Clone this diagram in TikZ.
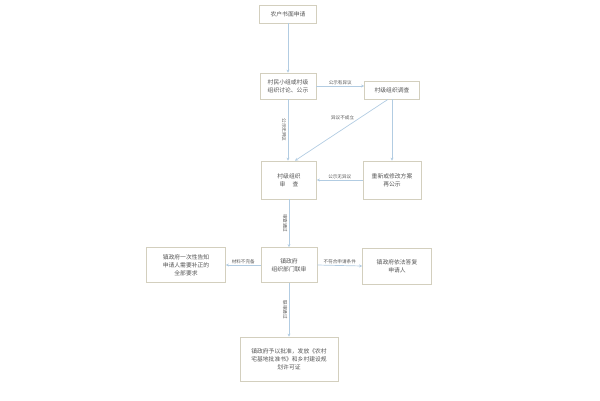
\documentclass[tikz,border=0pt]{standalone}
\usepackage{fontspec}
\setmainfont{Noto Sans CJK SC}
\usetikzlibrary{arrows.meta}
\definecolor{boxline}{HTML}{D3CFBE}
\definecolor{arrowline}{HTML}{B2CCE2}
\definecolor{txt}{HTML}{555555}
\tikzset{
  box/.style={draw=boxline,line width=0.7pt,fill=white,align=center,inner sep=1pt,text=txt,font=\fontsize{5.8}{8}\selectfont},
  flow/.style={draw=arrowline,line width=0.7pt,-{Stealth[length=3pt,width=3pt]}},
  lab/.style={font=\fontsize{4.6}{5.5}\selectfont,text=txt,inner sep=1pt},
  vlab/.style={lab,rotate=-90,anchor=north,inner sep=1.5pt}
}
\begin{document}
\begin{tikzpicture}[x=1pt,y=-1pt]
    \useasboundingbox (0,0) rectangle (600,400);
    \node[box,minimum width=57pt,minimum height=18pt] (apply) at (288,14) {农户书面申请};
    \node[box,minimum width=56pt,minimum height=26pt] (discuss) at (288,86) {村民小组或村级\\组织讨论、公示};
    \node[box,minimum width=55pt,minimum height=18pt] (survey) at (392,90) {村级组织调查};
    \node[box,minimum width=55pt,minimum height=38pt] (review) at (289,180) {村级组织\\审\quad\ 查};
    \node[box,minimum width=58pt,minimum height=38pt] (redo) at (392,180) {重新或修改方案\\再公示};
    \node[box,minimum width=56pt,minimum height=35pt] (joint) at (289,265) {镇政府\\组织部门联审};
    \node[box,minimum width=79pt,minimum height=35pt] (notify) at (186,265) {镇政府一次性告知\\申请人需要补正的\\全部要求};
    \node[box,minimum width=69pt,minimum height=36pt] (reply) at (397,266) {镇政府依法答复\\申请人};
    \node[box,minimum width=98pt,minimum height=44pt] (approve) at (289,359) {镇政府予以批准，发放《农村\\宅基地批准书》和乡村建设规\\划许可证};
    \draw[flow] (apply) -- (discuss);
    \draw[flow] (discuss.east) -- node[lab,above] {公示有异议} (survey.west |- discuss.east);
    \draw[flow] ([xshift=-4pt]survey.south) -- node[lab,above left,pos=0.35] {异议不成立} ([xshift=6pt]review.north);
    \draw[flow] (survey.south) -- (redo.north);
    \draw[flow] (discuss.south) -- node[vlab] {公示无异议} (review.north -| discuss.south);
    \draw[flow] (redo.west) -- node[lab,above] {公示无异议} (review.east);
    \draw[flow] (review.south) -- node[vlab] {审查通过} (joint.north);
    \draw[flow] (joint.west) -- node[lab,above] {材料不完备} (notify.east);
    \draw[flow] (joint.east) -- node[lab,above] {不符合申请条件} (reply.west);
    \draw[flow] (joint.south) -- node[vlab] {联审通过} (approve.north);
  \end{tikzpicture}
\end{document}
